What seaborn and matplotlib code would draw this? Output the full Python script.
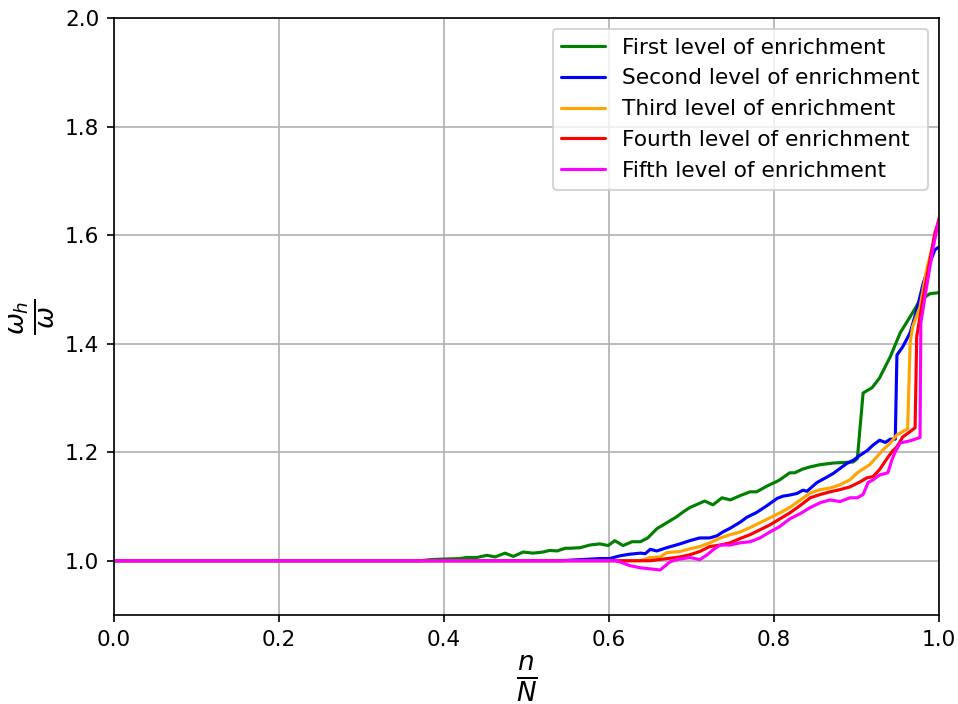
import matplotlib
matplotlib.use("Agg")
import matplotlib.pyplot as plt
import numpy as np
import pandas as pd
import seaborn as sns

# Ratio of enriched to base frequency versus relative mode number, per enrichment level
x_first = [0.0, 0.322, 0.371, 0.383, 0.399, 0.419, 0.428, 0.440, 0.452, 0.462, 0.474, 0.484,
           0.496, 0.508, 0.520, 0.528, 0.537, 0.547, 0.553, 0.565, 0.577, 0.589, 0.599, 0.607,
           0.617, 0.628, 0.638, 0.647, 0.658, 0.670, 0.682, 0.690, 0.698, 0.716, 0.726, 0.737,
           0.747, 0.759, 0.771, 0.779, 0.792, 0.802, 0.807, 0.819, 0.825, 0.835, 0.844, 0.856,
           0.872, 0.896, 0.901, 0.908, 0.919, 0.928, 0.941, 0.953, 0.968, 0.977, 0.989, 1.0]
y_first = [1.0, 1.0, 1.0, 1.002, 1.003, 1.004, 1.006, 1.006, 1.010, 1.007, 1.014, 1.008,
           1.016, 1.014, 1.016, 1.019, 1.018, 1.023, 1.023, 1.024, 1.029, 1.031, 1.028, 1.037,
           1.028, 1.035, 1.035, 1.042, 1.059, 1.070, 1.081, 1.090, 1.098, 1.110, 1.103, 1.116,
           1.112, 1.120, 1.127, 1.127, 1.138, 1.145, 1.149, 1.162, 1.162, 1.169, 1.173, 1.177,
           1.180, 1.182, 1.188, 1.309, 1.319, 1.337, 1.376, 1.420, 1.457, 1.480, 1.492, 1.494]

x_second = [0.0, 0.541, 0.589, 0.601, 0.613, 0.625, 0.638, 0.644, 0.650, 0.658, 0.670, 0.686,
            0.698, 0.710, 0.722, 0.731, 0.738, 0.747, 0.759, 0.767, 0.779, 0.792, 0.804, 0.811,
            0.819, 0.828, 0.835, 0.840, 0.852, 0.864, 0.872, 0.880, 0.888, 0.896, 0.904, 0.913,
            0.920, 0.928, 0.935, 0.941, 0.947, 0.949, 0.956, 0.965, 0.973, 0.981, 0.989, 0.995, 1.0]
y_second = [1.0, 1.0, 1.004, 1.004, 1.009, 1.012, 1.014, 1.013, 1.021, 1.018, 1.024, 1.031,
            1.037, 1.042, 1.042, 1.046, 1.053, 1.060, 1.071, 1.080, 1.089, 1.102, 1.115, 1.119,
            1.121, 1.124, 1.130, 1.128, 1.144, 1.154, 1.161, 1.170, 1.179, 1.185, 1.194, 1.203,
            1.213, 1.222, 1.218, 1.224, 1.224, 1.379, 1.394, 1.420, 1.462, 1.512, 1.549, 1.573, 1.578]

x_third = [0.0, 0.638, 0.650, 0.662, 0.670, 0.686, 0.698, 0.710, 0.722, 0.735, 0.747, 0.759,
           0.771, 0.783, 0.795, 0.807, 0.819, 0.832, 0.844, 0.856, 0.868, 0.880, 0.892, 0.901,
           0.908, 0.916, 0.925, 0.932, 0.941, 0.949, 0.956, 0.962, 0.965, 0.968, 0.977, 0.985,
           0.992, 0.998, 1.0]
y_third = [1.0, 1.0, 1.006, 1.007, 1.015, 1.017, 1.022, 1.026, 1.033, 1.042, 1.048, 1.053,
           1.061, 1.070, 1.079, 1.088, 1.098, 1.112, 1.125, 1.131, 1.134, 1.140, 1.149, 1.162,
           1.169, 1.177, 1.192, 1.204, 1.217, 1.232, 1.238, 1.243, 1.401, 1.431, 1.468, 1.536,
           1.578, 1.615, 1.632]

x_fourth = [0.0, 0.650, 0.686, 0.698, 0.710, 0.722, 0.735, 0.747, 0.759, 0.771, 0.783, 0.795,
            0.807, 0.819, 0.832, 0.844, 0.856, 0.868, 0.880, 0.892, 0.904, 0.913, 0.920, 0.928,
            0.936, 0.943, 0.949, 0.956, 0.965, 0.971, 0.973, 0.981, 0.989, 0.995, 1.0]
y_fourth = [1.0, 1.0, 1.007, 1.011, 1.017, 1.026, 1.029, 1.033, 1.041, 1.048, 1.057, 1.066,
            1.077, 1.088, 1.102, 1.116, 1.122, 1.127, 1.131, 1.136, 1.145, 1.153, 1.155, 1.168,
            1.186, 1.201, 1.210, 1.228, 1.238, 1.245, 1.413, 1.486, 1.554, 1.604, 1.628]

x_fifth = [0.0, 0.607, 0.613, 0.625, 0.638, 0.650, 0.662, 0.674, 0.682, 0.698, 0.710, 0.719,
           0.726, 0.735, 0.747, 0.759, 0.771, 0.783, 0.795, 0.807, 0.819, 0.832, 0.844, 0.856,
           0.868, 0.880, 0.892, 0.901, 0.908, 0.914, 0.920, 0.928, 0.938, 0.943, 0.947, 0.953,
           0.965, 0.977, 0.978, 0.985, 0.993, 1.0]
y_fifth = [1.0, 1.0, 0.998, 0.991, 0.987, 0.985, 0.983, 0.998, 1.002, 1.006, 1.002, 1.011,
           1.020, 1.029, 1.029, 1.033, 1.035, 1.042, 1.053, 1.063, 1.077, 1.087, 1.098, 1.107,
           1.112, 1.109, 1.116, 1.116, 1.122, 1.144, 1.149, 1.158, 1.162, 1.186, 1.201, 1.217,
           1.221, 1.227, 1.438, 1.505, 1.578, 1.630]

labels = ["First level of enrichment", "Second level of enrichment",
          "Third level of enrichment", "Fourth level of enrichment",
          "Fifth level of enrichment"]
colors = ["green", "blue", "orange", "red", "magenta"]
xs = [x_first, x_second, x_third, x_fourth, x_fifth]
ys = [y_first, y_second, y_third, y_fourth, y_fifth]

frames = [pd.DataFrame({"n/N": x, "ratio": y, "level": lab})
          for x, y, lab in zip(xs, ys, labels)]
df = pd.concat(frames, ignore_index=True)

sns.set_style("ticks")
plt.rcParams["font.family"] = ["DejaVu Sans"]
plt.rcParams.update({
    "text.color": "black",
    "axes.labelcolor": "black",
    "xtick.color": "black",
    "ytick.color": "black",
    "axes.edgecolor": "black",
})

fig = plt.figure(figsize=(958 / 150, 704 / 150), dpi=150)
ax = fig.add_axes([114 / 958, 1 - 615 / 704, 825 / 958, 597 / 704])

sns.lineplot(data=df, x="n/N", y="ratio", hue="level", hue_order=labels,
             palette=dict(zip(labels, colors)), estimator=None, sort=False,
             linewidth=1.5, ax=ax)

ax.set_xlim(0, 1)
ax.set_ylim(0.9, 2.0)
ax.set_yticks([1.0, 1.2, 1.4, 1.6, 1.8, 2.0])
ax.set_xticks([0.0, 0.2, 0.4, 0.6, 0.8, 1.0])
ax.grid(True, color="#b0b0b0", linewidth=0.8)
ax.tick_params(direction="out", length=3.5, width=0.8, labelsize=10.4, colors="black")
for s in ax.spines.values():
    s.set_visible(True)
    s.set_color("black")
    s.set_linewidth(0.8)

ax.set_xlabel(r"$\frac{n}{N}$", fontsize=18, labelpad=2)
ax.set_ylabel(r"$\frac{\omega_h}{\omega}$", fontsize=18)

leg = ax.legend(loc="upper right", fontsize=10.4, framealpha=0.8, edgecolor="#cccccc",
                fancybox=True)
for t in leg.get_texts():
    t.set_color("black")

fig.savefig("out.png", dpi=150)
